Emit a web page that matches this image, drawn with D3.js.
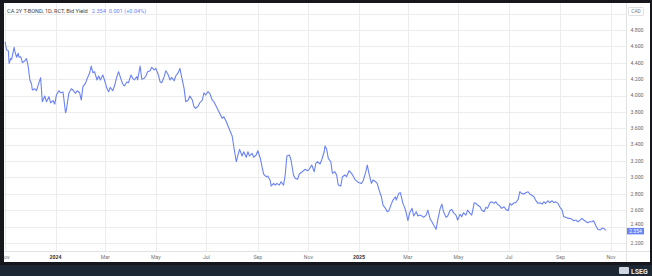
<!DOCTYPE html>
<html>
<head>
<meta charset="utf-8">
<script src="https://cdn.jsdelivr.net/npm/d3@7/dist/d3.min.js"></script>
<style>
  html, body { margin: 0; padding: 0; background: #16181d; }
  svg { display: block; font-family: Roboto, "Liberation Sans", sans-serif; }
</style>
</head>
<body>
<svg id="chart" width="652" height="276"></svg>
<script>
// Bid yield, CA 2Y T-BOND (dates / values)
const dates = [
  "2023-11-01","2023-11-03","2023-11-05","2023-11-06","2023-11-08","2023-11-09","2023-11-12","2023-11-13","2023-11-15","2023-11-17",
  "2023-11-18","2023-11-20","2023-11-22","2023-11-25","2023-11-27","2023-11-29","2023-12-01","2023-12-03","2023-12-04","2023-12-07",
  "2023-12-09","2023-12-12","2023-12-14","2023-12-16","2023-12-19","2023-12-21","2023-12-24","2023-12-26","2023-12-29","2023-12-31",
  "2024-01-02","2024-01-05","2024-01-07","2024-01-10","2024-01-13","2024-01-14","2024-01-17","2024-01-20","2024-01-22","2024-01-25",
  "2024-01-27","2024-01-30","2024-02-01","2024-02-03","2024-02-06","2024-02-08","2024-02-11","2024-02-13","2024-02-15","2024-02-17",
  "2024-02-20","2024-02-22","2024-02-24","2024-02-27","2024-02-29","2024-03-03","2024-03-05","2024-03-07","2024-03-10","2024-03-12",
  "2024-03-15","2024-03-17","2024-03-20","2024-03-22","2024-03-24","2024-03-27","2024-03-29","2024-04-01","2024-04-03","2024-04-05",
  "2024-04-08","2024-04-09","2024-04-12","2024-04-14","2024-04-17","2024-04-19","2024-04-21","2024-04-24","2024-04-26","2024-04-29",
  "2024-05-01","2024-05-04","2024-05-06","2024-05-08","2024-05-11","2024-05-13","2024-05-16","2024-05-18","2024-05-20","2024-05-23",
  "2024-05-25","2024-05-28","2024-05-30","2024-06-01","2024-06-04","2024-06-06","2024-06-09","2024-06-11","2024-06-14","2024-06-16",
  "2024-06-18","2024-06-21","2024-06-23","2024-06-26","2024-06-28","2024-06-30","2024-07-03","2024-07-05","2024-07-08","2024-07-10",
  "2024-07-12","2024-07-15","2024-07-17","2024-07-20","2024-07-22","2024-07-25","2024-07-27","2024-07-29","2024-08-01","2024-08-03",
  "2024-08-06","2024-08-08","2024-08-10","2024-08-13","2024-08-15","2024-08-18","2024-08-20","2024-08-22","2024-08-25","2024-08-27",
  "2024-08-30","2024-09-01","2024-09-04","2024-09-06","2024-09-08","2024-09-11","2024-09-13","2024-09-16","2024-09-17","2024-09-20",
  "2024-09-22","2024-09-24","2024-09-27","2024-09-29","2024-10-02","2024-10-04","2024-10-06","2024-10-09","2024-10-11","2024-10-14",
  "2024-10-16","2024-10-19","2024-10-21","2024-10-23","2024-10-26","2024-10-28","2024-10-31","2024-11-02","2024-11-05","2024-11-08",
  "2024-11-10","2024-11-12","2024-11-15","2024-11-17","2024-11-20","2024-11-21","2024-11-23","2024-11-25","2024-11-28","2024-11-30",
  "2024-12-03","2024-12-05","2024-12-07","2024-12-10","2024-12-12","2024-12-15","2024-12-17","2024-12-20","2024-12-23","2024-12-25",
  "2024-12-27","2024-12-30","2025-01-01","2025-01-04","2025-01-06","2025-01-09","2025-01-11","2025-01-13","2025-01-16","2025-01-18",
  "2025-01-21","2025-01-23","2025-01-25","2025-01-28","2025-01-30","2025-02-02","2025-02-04","2025-02-06","2025-02-09","2025-02-11",
  "2025-02-14","2025-02-15","2025-02-18","2025-02-20","2025-02-23","2025-02-25","2025-02-27","2025-03-01","2025-03-03","2025-03-06",
  "2025-03-08","2025-03-11","2025-03-13","2025-03-15","2025-03-18","2025-03-20","2025-03-23","2025-03-25","2025-03-28","2025-03-30",
  "2025-04-01","2025-04-04","2025-04-06","2025-04-09","2025-04-11","2025-04-13","2025-04-16","2025-04-18","2025-04-21","2025-04-23",
  "2025-04-25","2025-04-28","2025-04-30","2025-05-03","2025-05-05","2025-05-07","2025-05-10","2025-05-12","2025-05-15","2025-05-17",
  "2025-05-20","2025-05-22","2025-05-24","2025-05-27","2025-05-29","2025-06-01","2025-06-03","2025-06-05","2025-06-08","2025-06-10",
  "2025-06-13","2025-06-15","2025-06-17","2025-06-20","2025-06-22","2025-06-25","2025-06-27","2025-06-30","2025-07-02","2025-07-04",
  "2025-07-07","2025-07-09","2025-07-12","2025-07-14","2025-07-16","2025-07-19","2025-07-21","2025-07-24","2025-07-26","2025-07-28",
  "2025-07-31","2025-08-02","2025-08-05","2025-08-07","2025-08-10","2025-08-12","2025-08-14","2025-08-17","2025-08-19","2025-08-22",
  "2025-08-24","2025-08-26","2025-08-29","2025-08-31","2025-09-03","2025-09-05","2025-09-08","2025-09-10","2025-09-12","2025-09-15",
  "2025-09-17","2025-09-20","2025-09-22","2025-09-24","2025-09-27","2025-09-29","2025-10-02","2025-10-04","2025-10-06","2025-10-09",
  "2025-10-11","2025-10-14","2025-10-16","2025-10-19","2025-10-21","2025-10-23","2025-10-26"
];
const yields = [
  4.657,4.556,4.547,4.393,4.454,4.442,4.589,4.535,4.467,4.516,
  4.467,4.474,4.401,4.425,4.450,4.352,4.190,4.141,4.067,4.083,
  4.059,4.157,4.218,3.925,3.994,3.925,3.986,3.912,3.937,3.896,
  4.006,4.059,4.034,4.043,3.790,3.823,4.027,4.083,4.067,4.027,
  4.059,4.034,3.945,4.108,4.149,4.205,4.271,4.360,4.279,4.291,
  4.190,4.238,4.190,4.251,4.190,4.088,4.047,4.100,4.059,4.116,
  4.230,4.291,4.198,4.141,4.116,4.165,4.157,4.251,4.210,4.190,
  4.230,4.190,4.360,4.198,4.210,4.238,4.291,4.303,4.345,4.312,
  4.332,4.251,4.169,4.157,4.230,4.303,4.251,4.190,4.222,4.181,
  4.238,4.279,4.332,4.230,4.088,3.925,3.945,3.994,3.945,3.863,
  3.844,3.872,3.912,3.945,4.034,4.006,4.047,4.027,3.945,3.925,
  3.884,3.823,3.783,3.722,3.741,3.680,3.628,3.579,3.506,3.375,
  3.192,3.274,3.343,3.262,3.314,3.246,3.314,3.262,3.295,3.246,
  3.274,3.326,3.233,3.131,3.042,3.009,3.017,2.960,2.895,2.928,
  2.907,2.928,2.907,2.948,2.907,3.030,3.262,3.274,3.213,3.030,
  2.989,2.977,3.042,3.058,3.082,3.099,3.082,3.099,3.152,3.070,
  3.172,3.192,3.164,3.213,3.314,3.384,3.343,3.233,3.192,3.050,
  3.070,3.030,2.907,2.895,3.009,3.030,3.009,3.082,3.050,3.017,
  2.977,2.948,2.936,2.928,2.960,3.058,3.152,3.050,2.928,2.968,
  2.948,2.928,2.855,2.765,2.663,2.623,2.581,2.594,2.675,2.724,
  2.765,2.724,2.806,2.813,2.684,2.635,2.569,2.472,2.562,2.623,
  2.529,2.581,2.529,2.541,2.529,2.513,2.541,2.602,2.489,2.459,
  2.419,2.367,2.480,2.623,2.675,2.581,2.513,2.529,2.600,2.610,
  2.570,2.541,2.480,2.550,2.520,2.569,2.541,2.602,2.562,2.541,
  2.691,2.684,2.663,2.643,2.602,2.581,2.635,2.623,2.691,2.704,
  2.684,2.704,2.675,2.651,2.623,2.643,2.611,2.594,2.684,2.663,
  2.691,2.691,2.733,2.826,2.806,2.798,2.813,2.826,2.798,2.785,
  2.765,2.724,2.684,2.691,2.675,2.704,2.684,2.716,2.691,2.716,
  2.691,2.704,2.684,2.643,2.602,2.520,2.513,2.501,2.501,2.489,
  2.472,2.480,2.459,2.472,2.501,2.480,2.459,2.447,2.459,2.459,
  2.472,2.407,2.367,2.358,2.379,2.379,2.354
];
const yTicks = [2.2, 2.4, 2.6, 2.8, 3.0, 3.2, 3.4, 3.6, 3.8, 4.0, 4.2, 4.4, 4.6, 4.8];
const yGrid = yTicks.concat([5.0]);
const titleText = "CA 2Y T-BOND, 1D, RCT, Bid Yield";
const lastText = "2.354";
const changeText = "0.001 (+0.04%)";
const currency = "CAD";

const svg = d3.select("#chart");
const W = 652, H = 276;
const lineColor = "#6a82f6";

// frame
svg.append("rect").attr("width", W).attr("height", H).attr("fill", "#16181d");
svg.append("rect").attr("x", 0).attr("y", 265).attr("width", W).attr("height", 11).attr("fill", "#1d2633");
svg.append("rect").attr("x", 4).attr("y", 3).attr("width", 646).attr("height", 259).attr("fill", "#ffffff");

const x = d3.scaleUtc()
  .domain([new Date("2023-11-01"), new Date("2025-11-01")])
  .range([5, 611]);
const y = d3.scaleLinear().domain([2.2, 4.8]).range([243, 30]);

svg.append("clipPath").attr("id", "plotClip")
  .append("rect").attr("x", 4).attr("y", 3).attr("width", 622).attr("height", 259);

const grid = svg.append("g").attr("clip-path", "url(#plotClip)");

// horizontal gridlines
grid.selectAll(".hgrid").data(yGrid).join("line")
  .attr("x1", 4).attr("x2", 626)
  .attr("y1", d => Math.round(y(d)) + 0.5).attr("y2", d => Math.round(y(d)) + 0.5)
  .attr("stroke", "#ececec").attr("stroke-width", 1);

// vertical gridlines every two months
const monthTicks = d3.utcMonth.every(2).range(new Date("2023-11-01"), new Date("2025-11-02"));
grid.selectAll(".vgrid").data(monthTicks).join("line")
  .attr("x1", d => Math.round(x(d)) + 0.5).attr("x2", d => Math.round(x(d)) + 0.5)
  .attr("y1", 3).attr("y2", 251)
  .attr("stroke", "#ececec").attr("stroke-width", 1);

// axis separators
svg.append("line").attr("x1", 4).attr("x2", 650).attr("y1", 251.5).attr("y2", 251.5)
  .attr("stroke", "#e2e2e2");
svg.append("line").attr("x1", 626.5).attr("x2", 626.5).attr("y1", 3).attr("y2", 262)
  .attr("stroke", "#e2e2e2");

// series
const data = dates.map((d, i) => ({ date: new Date(d), value: yields[i] }));
const line = d3.line().x(d => x(d.date)).y(d => y(d.value));
grid.append("path").datum(data)
  .attr("d", line)
  .attr("fill", "none")
  .attr("stroke", lineColor)
  .attr("stroke-width", 1.1)
  .attr("stroke-linejoin", "round");

// last value position (tag sits just under the 2.400 label)
const lastY = y(yields[yields.length - 1]);

// y labels
const fmt = d3.format(".3f");
svg.selectAll(".ylab").data(yTicks).join("text")
  .attr("x", 637)
  .attr("y", d => Math.abs(y(d) - lastY) < 7 ? y(d) - 0.6 : y(d) + 1.8)
  .attr("text-anchor", "middle")
  .attr("font-size", 5.2)
  .attr("fill", "#666")
  .text(d => fmt(d));

// x labels
const xlab = svg.append("g").attr("clip-path", "url(#plotClip)");
xlab.selectAll("text").data(monthTicks).join("text")
  .attr("x", d => x(d)).attr("y", 258.5)
  .attr("text-anchor", "middle")
  .attr("font-size", 5.2)
  .attr("font-weight", d => d.getUTCMonth() === 0 ? "bold" : "normal")
  .attr("fill", d => d.getUTCMonth() === 0 ? "#333" : "#777")
  .text(d => d.getUTCMonth() === 0 ? d3.utcFormat("%Y")(d) : d3.utcFormat("%b")(d));

// currency box
svg.append("rect").attr("x", 628.5).attr("y", 7.5).attr("width", 15).attr("height", 8)
  .attr("fill", "#fff").attr("stroke", "#e0e0e0").attr("rx", 1);
svg.append("text").attr("x", 636).attr("y", 13.2).attr("text-anchor", "middle")
  .attr("font-size", 4.8).attr("fill", "#777").text(currency);

// last value tag
svg.append("rect").attr("x", 627).attr("y", lastY - 2.5).attr("width", 17).attr("height", 6.5)
  .attr("fill", lineColor);
svg.append("text").attr("x", 635.5).attr("y", lastY + 2.6).attr("text-anchor", "middle")
  .attr("font-size", 5).attr("fill", "#fff").text(lastText);

// title
const title = svg.append("text").attr("x", 7).attr("y", 13).attr("font-size", 5.6);
title.append("tspan").attr("fill", "#444").text(titleText);
title.append("tspan").attr("dx", 4).attr("fill", lineColor).text(lastText);
title.append("tspan").attr("dx", 3).attr("fill", lineColor).text(changeText);

// LSEG mark
svg.append("rect").attr("x", 619).attr("y", 267).attr("width", 10).attr("height", 7)
  .attr("fill", "#cfd6e0").attr("rx", 1);
svg.append("text").attr("x", 631).attr("y", 273.5).attr("font-size", 7)
  .attr("font-weight", "bold").attr("fill", "#e8ecf2").text("LSEG");
</script>
</body>
</html>
